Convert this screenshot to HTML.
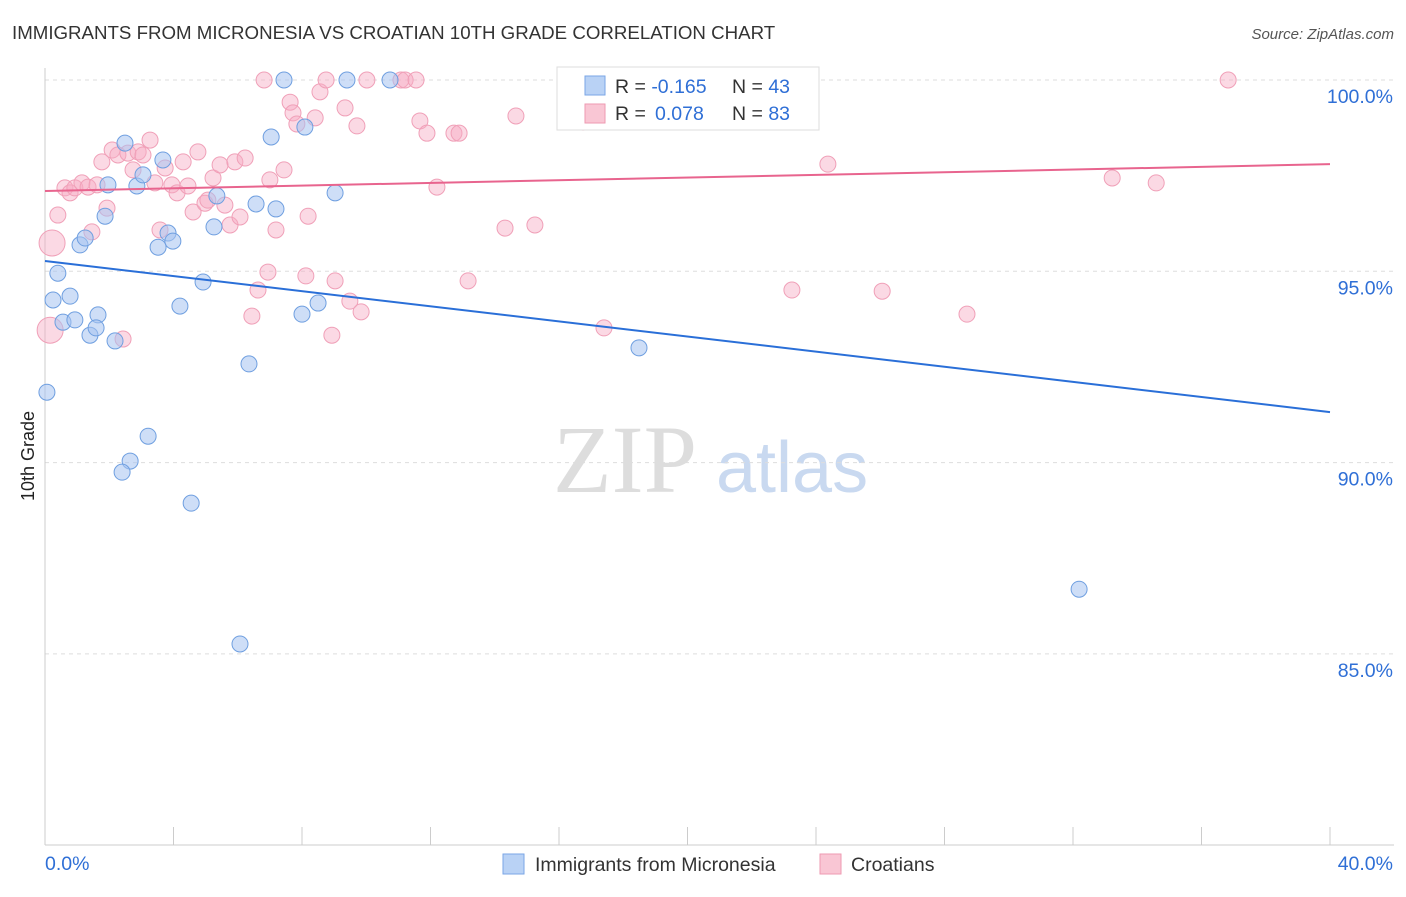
<!DOCTYPE html>
<html><head><meta charset="utf-8"><style>
body{margin:0;background:#fff;font-family:"Liberation Sans",sans-serif}
svg text{font-family:"Liberation Sans",sans-serif}
</style></head><body>
<svg id="chart" width="1406" height="892" xmlns="http://www.w3.org/2000/svg">
<text x="12" y="39" font-size="18.7" fill="#333">IMMIGRANTS FROM MICRONESIA VS CROATIAN 10TH GRADE CORRELATION CHART</text>
<text x="1394" y="39" font-size="15" fill="#555" text-anchor="end" font-style="italic">Source: ZipAtlas.com</text>
<text x="0" y="0" font-size="18" fill="#222" transform="translate(34,456) rotate(-90)" text-anchor="middle">10th Grade</text>
<g>
<text x="553" y="492" font-size="96" fill="#ddd" font-family="Liberation Serif" style="font-family:'Liberation Serif',serif">ZIP</text>
<text x="716" y="492" font-size="72" fill="#c9d9f0">atlas</text>
</g>
<g id="grid"></g><g id="axes"></g><g id="lines"></g><g id="pts"></g>
<g>
<rect x="557" y="67" width="262" height="63" fill="#fff" stroke="#ddd"/>
<rect x="585" y="76" width="20" height="19" fill="#b9d2f5" stroke="#7aa6e6"/>
<rect x="585" y="104" width="20" height="19" fill="#f9c6d4" stroke="#ee9ab2"/>
<text x="615" y="93" font-size="19.5" fill="#333">R = <tspan fill="#2f6fd6">-0.165</tspan><tspan x="732">N = </tspan><tspan fill="#2f6fd6">43</tspan></text>
<text x="615" y="120" font-size="19.5" fill="#333">R = <tspan fill="#2f6fd6" x="655">0.078</tspan><tspan x="732">N = </tspan><tspan fill="#2f6fd6">83</tspan></text>
</g>
<g>
<rect x="503" y="854" width="21" height="20" fill="#b9d2f5" stroke="#7aa6e6"/>
<text x="535" y="871" font-size="19.5" fill="#333">Immigrants from Micronesia</text>
<rect x="820" y="854" width="21" height="20" fill="#f9c6d4" stroke="#ee9ab2"/>
<text x="851" y="871" font-size="19.5" fill="#333">Croatians</text>
</g>
</svg>
<script>
const yTicks=[100,95,90,85];
const yTickLabels=["100.0%","95.0%","90.0%","85.0%"];
const xTickVals=[0,4,8,12,16,20,24,28,32,36,40];
const xEndLabels=["0.0%","40.0%"];
const blueX=[0.06,0.40,0.25,0.78,0.56,0.93,1.40,1.65,1.59,2.18,1.09,1.25,1.87,1.96,2.49,2.86,3.05,3.67,3.52,3.83,3.98,4.20,4.92,5.26,5.35,6.35,6.57,7.04,7.19,7.44,8.09,8.00,8.50,9.03,9.40,10.74,18.49,3.21,2.65,2.40,4.55,6.07,32.19];
const blueY=[91.84,94.95,94.25,94.35,93.67,93.73,93.33,93.86,93.52,93.18,95.69,95.87,96.44,97.26,98.35,97.23,97.52,97.91,95.63,96.0,95.79,94.09,94.72,96.16,96.97,92.58,96.76,98.51,96.63,100,98.77,93.88,94.17,97.05,100,100,93.0,90.69,90.04,89.75,88.94,85.26,86.69];
const pinkX=[0.22,0.16,0.40,0.62,0.78,0.93,1.15,1.34,1.62,1.46,1.77,1.93,2.09,2.27,2.43,2.58,2.74,2.9,3.05,3.27,3.42,3.58,3.74,3.95,4.11,4.30,4.45,4.61,4.76,4.98,5.07,5.23,5.45,5.6,5.76,5.91,6.07,6.23,6.44,6.63,6.82,6.94,7.0,7.19,7.44,7.63,7.72,7.84,8.12,8.19,8.41,8.56,8.75,9.03,8.93,9.34,9.49,9.71,9.84,10.02,11.08,11.21,11.55,11.67,11.89,12.2,12.73,12.89,13.17,14.32,14.66,15.25,16.75,17.4,17.99,22.26,22.41,23.25,24.37,26.06,28.7,33.22,34.59,36.83];
const pinkY=[95.74,93.46,96.47,97.18,97.05,97.18,97.31,97.2,97.26,96.03,97.86,96.65,98.17,98.04,93.23,98.09,97.65,98.12,98.04,98.43,97.31,96.08,97.7,97.26,97.05,97.86,97.23,96.55,98.12,96.78,96.86,97.44,97.78,96.73,96.21,97.86,96.42,97.96,93.83,94.51,100,94.98,97.39,96.08,97.65,99.42,99.14,98.85,94.88,96.44,99.01,99.69,100,94.75,93.33,99.27,94.22,98.8,93.94,100,100,100,100,98.93,98.61,97.2,98.61,98.61,94.75,96.13,99.06,96.21,98.9,93.52,100,100,99.22,94.51,97.8,94.48,93.88,97.44,97.31,100];
const pinkBig=[0,1];
const blueTrend=[95.27,91.32];
const pinkTrend=[97.10,97.80];
const NS="http://www.w3.org/2000/svg";
const X0=45,X1=1330,Y100=80,PX_PER=38.26;
const sx=v=>X0+(X1-X0)*v/40;
const sy=v=>Y100+(100-v)*PX_PER;
function mk(t,a,p){const e=document.createElementNS(NS,t);for(const k in a)e.setAttribute(k,a[k]);p.appendChild(e);return e;}
const grid=document.getElementById('grid'),axes=document.getElementById('axes'),lines=document.getElementById('lines'),pts=document.getElementById('pts');
yTicks.forEach((t,i)=>{
 const l=mk('line',{x1:X0,x2:1394,y1:sy(t),y2:sy(t),stroke:'#ddd','stroke-dasharray':'4,4'},grid);
 
 
 const tx=mk('text',{x:1393,y:sy(t)+23,'font-size':19.5,fill:'#2f6fd6','text-anchor':'end'},axes);
 tx.textContent=yTickLabels[i];
 
 
});
const ax=mk('line',{x1:X0,x2:X0,y1:68,y2:845,stroke:'#ccc'},axes);


const bx=mk('line',{x1:X0,x2:1394,y1:845,y2:845,stroke:'#ccc'},axes);


xTickVals.forEach(v=>{
 const l=mk('line',{x1:sx(v),x2:sx(v),y1:827,y2:845,stroke:'#ccc'},axes);
 
 
});
const xl0=mk('text',{x:45,y:870,'font-size':19.5,fill:'#2f6fd6'},axes);xl0.textContent=xEndLabels[0];


const xl1=mk('text',{x:1393,y:870,'font-size':19.5,fill:'#2f6fd6','text-anchor':'end'},axes);xl1.textContent=xEndLabels[1];


pinkX.forEach((v,i)=>{
 const big=pinkBig.includes(i);
 const c=mk('circle',{cx:sx(v),cy:sy(pinkY[i]),r:big?13:8,fill:'rgba(246,170,195,0.45)',stroke:'#f0a0b8','stroke-width':1},pts);
 
 
});
blueX.forEach((v,i)=>{
 const c=mk('circle',{cx:sx(v),cy:sy(blueY[i]),r:8,fill:'rgba(165,195,240,0.55)',stroke:'#6f9fe0','stroke-width':1},pts);
 
 
});
const bl=mk('line',{x1:sx(0),x2:sx(40),y1:sy(blueTrend[0]),y2:sy(blueTrend[1]),stroke:'#2a6fd8','stroke-width':2},pts);


const pl=mk('line',{x1:sx(0),x2:sx(40),y1:sy(pinkTrend[0]),y2:sy(pinkTrend[1]),stroke:'#e8648e','stroke-width':2},pts);


</script>
</body></html>
